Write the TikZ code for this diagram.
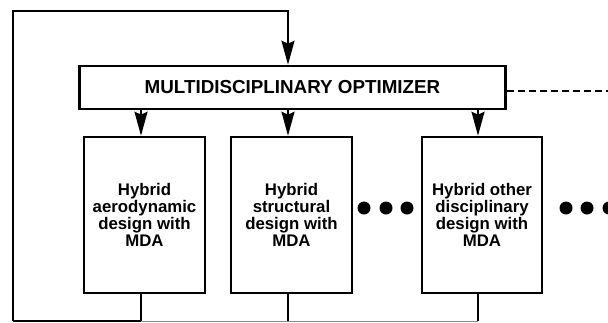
\documentclass[tikz,border=0pt]{standalone}
\usepackage{fontspec}
\setmainfont{Liberation Sans}
\usetikzlibrary{arrows.meta}
\begin{document}
\begin{tikzpicture}[x=1pt,y=-1pt,
  boxstyle/.style={draw,line width=2.6pt,inner sep=0pt,align=center,font=\bfseries\fontsize{16.8}{17}\selectfont},
  optstyle/.style={draw,line width=2.6pt,inner sep=0pt,font=\bfseries\fontsize{18.8}{20}\selectfont},
  conn/.style={line width=2pt},
  arr/.style={line width=2pt,-{Stealth[length=24pt,width=13pt,inset=3pt]}},
  dotstyle/.style={circle,fill=black,inner sep=0pt,minimum size=13pt}]
\useasboundingbox (0,0) rectangle (608,322);
\node[optstyle,minimum width=426pt,minimum height=43pt] (opt) at (292.5,87.5) {MULTIDISCIPLINARY OPTIMIZER};
\node[boxstyle,minimum width=121pt,minimum height=156pt] (b1) at (144.5,215) {Hybrid\\aerodynamic\\design with\\MDA};
\node[boxstyle,minimum width=121pt,minimum height=156pt] (b2) at (291.5,215) {Hybrid\\structural\\design with\\MDA};
\node[boxstyle,minimum width=120pt,minimum height=156pt] (b3) at (482,215) {Hybrid other\\disciplinary\\design with\\MDA};
% dots
\node[dotstyle] (d1) at (364,208) {};
\node[dotstyle] (d2) at (386,208) {};
\node[dotstyle] (d3) at (407,208) {};
\node[dotstyle] (d4) at (566,208) {};
\node[dotstyle] (d5) at (587,208) {};
\node[dotstyle] (d6) at (609,208) {};
% coordinates
\coordinate (tl) at (13,11);
\coordinate (bl) at (13,321);
\coordinate (b1c) at (141,321);
\coordinate (b2c) at (288,321);
\coordinate (b3c) at (478,321);
\coordinate (dashend) at (612,91);
% arrows from optimizer
\draw[arr] ([xshift=-3.5pt]b1.north |- opt.south) -- ([xshift=-3.5pt]b1.north);
\draw[arr] ([xshift=-3.5pt]b2.north |- opt.south) -- ([xshift=-3.5pt]b2.north);
\draw[arr] ([xshift=-4pt]b3.north |- opt.south) -- ([xshift=-4pt]b3.north);
% feedback loop
\draw[conn] ([xshift=-3.5pt]b1.south) -- (b1c);
\draw[conn] ([xshift=-3.5pt]b2.south) -- (b2c);
\draw[conn] ([xshift=-4pt]b3.south) -- (b3c);
\draw[conn] (b1c) -- (bl);
\draw[line width=1pt,black!45] (b1c) -- (b3c);
\draw[arr] (bl) -- (tl) -| ([xshift=-4.5pt]opt.north);
% dashed link
\draw[conn,dash pattern=on 7pt off 4pt] ([yshift=-3.5pt]opt.east) -- (dashend);
\end{tikzpicture}
\end{document}
